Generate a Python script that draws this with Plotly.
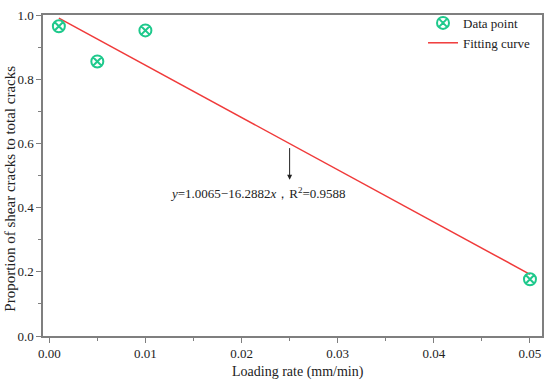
import plotly.graph_objects as go

x_data = [0.001, 0.005, 0.010, 0.050]
y_data = [0.965, 0.855, 0.952, 0.177]
fit_x = [0.001, 0.050]
intercept = 1.0065
slope = -16.2882
fit_y = [intercept + slope * v for v in fit_x]

font = "Liberation Serif, Times New Roman, serif"
axcol = "#7f7f7f"

fig = go.Figure()
fig.add_trace(go.Scatter(x=fit_x, y=fit_y, mode="lines", name="Fitting curve",
                         line=dict(color="#f03a3a", width=1.5)))
fig.add_trace(go.Scatter(x=x_data, y=y_data, mode="markers", name="Data point",
                         marker=dict(symbol="circle-x-open", size=12, color="#1ec98c",
                                     line=dict(width=2, color="#1ec98c"))))

fig.add_annotation(x=0.025, y=0.487, ax=0.025, ay=0.59, xref="x", yref="y",
                   axref="x", ayref="y", showarrow=True, arrowhead=2, arrowsize=1,
                   arrowwidth=1, arrowcolor="#222", text="")
fig.add_annotation(x=0.0217, y=0.447, xref="x", yref="y", showarrow=False,
                   text="<i>y</i>=1.0065−16.2882<i>x</i>，R<sup>2</sup>=0.9588",
                   font=dict(family=font, size=13, color="#222"))

# axis titles
fig.add_annotation(x=0.0259, y=-0.113, xref="x", yref="paper", showarrow=False,
                   text="Loading rate (mm/min)", yanchor="middle",
                   font=dict(family=font, size=14, color="#222"))
fig.add_annotation(x=-0.0655, y=0.46, xref="paper", yref="paper", showarrow=False,
                   text="Proportion of shear cracks to total cracks", textangle=-90,
                   xanchor="center", yanchor="middle",
                   font=dict(family=font, size=15, color="#222"))

axis_common = dict(showline=True, linecolor=axcol, linewidth=1.5, mirror=True,
                   ticks="outside", tickcolor=axcol, ticklen=5, showgrid=False,
                   zeroline=False, automargin=False,
                   tickfont=dict(family=font, size=13, color="#222"))
fig.update_xaxes(range=[-0.00065, 0.05125], tickvals=[0, 0.01, 0.02, 0.03, 0.04, 0.05],
                 ticktext=["0.00", "0.01", "0.02", "0.03", "0.04", "0.05"],
                 minor=dict(ticks="outside", tickvals=[0.005, 0.015, 0.025, 0.035, 0.045],
                            ticklen=3, tickcolor=axcol),
                 **axis_common)
fig.update_yaxes(range=[0, 1.0], tickvals=[0, 0.2, 0.4, 0.6, 0.8, 1.0],
                 ticktext=["0.0", "0.2", "0.4", "0.6", "0.8", "1.0"],
                 minor=dict(ticks="outside", tickvals=[0.1, 0.3, 0.5, 0.7, 0.9],
                            ticklen=3, tickcolor=axcol),
                 **axis_common)

fig.update_layout(width=550, height=380, margin=dict(l=43, r=8, t=10, b=44),
                  paper_bgcolor="white", plot_bgcolor="white",
                  legend=dict(x=0.988, y=1.022, xanchor="right", yanchor="top",
                              traceorder="reversed", bgcolor="rgba(0,0,0,0)",
                              font=dict(family=font, size=13, color="#222"),
                              itemwidth=30, tracegroupgap=0))
fig.write_html("out.html", config={"displayModeBar": False},
               post_script="document.body.style.margin='0';")
